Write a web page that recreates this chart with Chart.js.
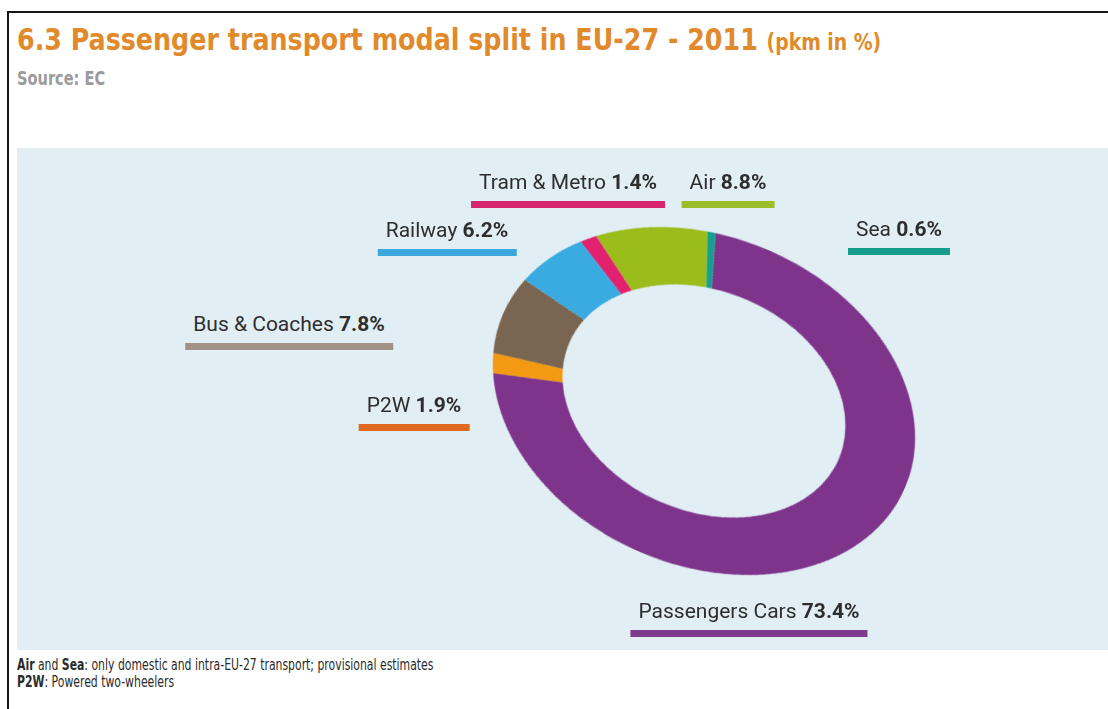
<!DOCTYPE html>
<html>
<head>
<meta charset="utf-8">
<script src="https://cdn.jsdelivr.net/npm/chart.js@4.4.1/dist/chart.umd.min.js"></script>
<style>
  html, body { margin: 0; padding: 0; background: #fff; }
  body { width: 1108px; height: 709px; position: relative; overflow: hidden; font-family: Roboto, "Liberation Sans", sans-serif; }
  .frame-top { position: absolute; left: 8px; top: 11px; width: 1100px; height: 2px; background: #151515; }
  .frame-left { position: absolute; left: 7px; top: 11px; width: 2px; height: 698px; background: #151515; }
  .title { position: absolute; left: 17px; top: 21px; font-family: "Liberation Sans Narrow", "DejaVu Sans Condensed", sans-serif; font-weight: bold; color: #e08a2b; font-size: 31px; line-height: 36px; white-space: nowrap; transform-origin: 0 0; transform: scaleX(0.909); }
  .title small { font-size: 23px; }
  .source { position: absolute; left: 17px; top: 66px; font-family: "Liberation Sans Narrow", "DejaVu Sans Condensed", sans-serif; font-weight: bold; color: #9b9b9b; font-size: 20px; line-height: 24px; transform-origin: 0 0; transform: scaleX(0.81); }
  .panel { position: absolute; left: 17px; top: 148px; width: 1091px; height: 502px; background: #e1eef4; }
  #ring { position: absolute; left: 485px; top: 182px; transform-origin: 219px 219px; transform: rotate(23.6deg) scale(1, 0.749); }
  .lbl { position: absolute; transform: translateX(-50%); white-space: nowrap; color: #2e2e2e; font-size: 21px; line-height: 21px; }
  .lbl span { display: block; padding: 0 8px; }
  .lbl i { display: block; height: 7px; margin-top: 8px; }
  .note { position: absolute; left: 17px; top: 657px; font-family: "Liberation Sans Narrow", "DejaVu Sans Condensed", sans-serif; font-size: 15px; line-height: 17px; color: #2b2b2b; white-space: nowrap; transform-origin: 0 0; transform: scaleX(0.805); }
</style>
</head>
<body>
<div class="frame-top"></div>
<div class="frame-left"></div>
<div class="title">6.3 Passenger transport modal split in EU-27 - 2011 <small>(pkm in %)</small></div>
<div class="source">Source: EC</div>
<div class="panel"></div>
<canvas id="ring" width="438" height="438"></canvas>
<div id="labels"></div>
<div class="note"><b>Air</b> and <b>Sea</b>: only domestic and intra-EU-27 transport; provisional estimates<br><b>P2W</b>: Powered two-wheelers</div>

<script>
// modal split, clockwise starting with passenger cars
const modes = ['Passengers Cars', 'P2W', 'Bus & Coaches', 'Railway', 'Tram & Metro', 'Air', 'Sea'];
const shares = [73.4, 1.9, 7.8, 6.2, 1.4, 8.8, 0.6];
const ringColors = ['#7e348b', '#f39a12', '#7a6550', '#3aabe1', '#e2216f', '#9bbd1b', '#169e8f'];
const barColors = ['#7e3a8c', '#e2681f', '#a29187', '#3aa8dc', '#d6266e', '#9bbd2a', '#179d8e'];

// where each label sits (centre x, top y)
const labelPos = [[749, 601], [414, 395], [289, 314], [447, 220], [568, 172], [728, 172], [899, 219]];

new Chart(document.getElementById('ring'), {
  type: 'doughnut',
  data: {
    labels: modes,
    datasets: [{ data: shares, backgroundColor: ringColors, borderWidth: 0 }]
  },
  options: {
    responsive: false,
    animation: false,
    cutout: '67%',
    rotation: -15,
    layout: { padding: 0 },
    plugins: { legend: { display: false }, tooltip: { enabled: false } }
  }
});

const box = document.getElementById('labels');
modes.forEach((m, i) => {
  const d = document.createElement('div');
  d.className = 'lbl';
  d.style.left = labelPos[i][0] + 'px';
  d.style.top = labelPos[i][1] + 'px';
  const t = document.createElement('span');
  t.appendChild(document.createTextNode(m + ' '));
  const b = document.createElement('b');
  b.textContent = shares[i].toFixed(1) + '%';
  t.appendChild(b);
  const bar = document.createElement('i');
  bar.style.background = barColors[i];
  d.appendChild(t);
  d.appendChild(bar);
  box.appendChild(d);
});
</script>
</body>
</html>
